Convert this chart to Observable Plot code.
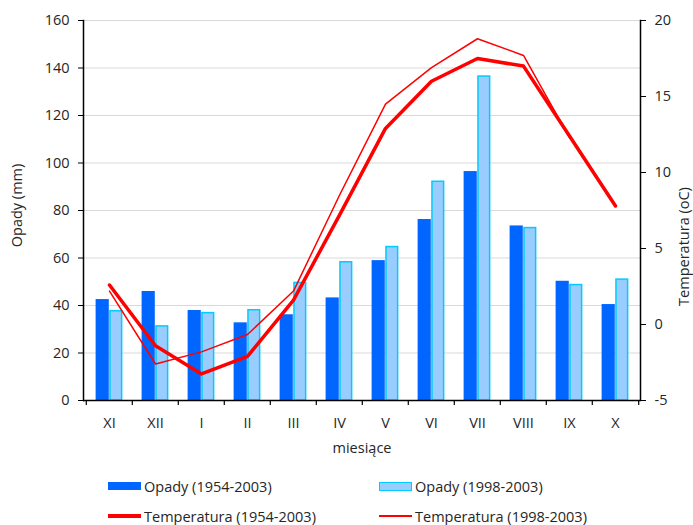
<!DOCTYPE html>
<html>
<head>
<meta charset="utf-8">
<script src="https://cdn.jsdelivr.net/npm/d3@7"></script>
<script src="https://cdn.jsdelivr.net/npm/@observablehq/plot@0.6"></script>
<style>
  body { margin: 0; background: #fff; font-family: "Open Sans", sans-serif; }
  #wrap { position: relative; width: 693px; height: 525px; }
  .legend { position: absolute; left: 0; top: 472px; width: 693px; height: 53px; font-size: 14.5px; color: #262626; }
  .item { position: absolute; display: flex; align-items: center; white-space: nowrap; }
  .sw { width: 33px; margin-right: 3px; box-sizing: border-box; }
</style>
</head>
<body>
<div id="wrap"></div>
<script>
const months = ["XI","XII","I","II","III","IV","V","VI","VII","VIII","IX","X"];
const opady1954 = [42.5, 45.9, 37.9, 32.7, 36.1, 43.2, 58.9, 76.2, 96.4, 73.5, 50.2, 40.4];
const opady1998 = [37.6, 31.2, 36.8, 38.0, 49.5, 58.2, 64.6, 92.1, 136.4, 72.6, 48.6, 50.9];
const temp1954 = [2.6, -1.4, -3.25, -2.1, 1.6, 7.2, 12.9, 16.0, 17.5, 17.0, 12.4, 7.8];
const temp1998 = [2.2, -2.6, -1.8, -0.66, 2.2, 8.5, 14.5, 16.9, 18.8, 17.7, 12.3, null];
const leftTicks = [0, 20, 40, 60, 80, 100, 120, 140, 160];
const rightTicks = [-5, 0, 5, 10, 15, 20];
const seriesNames = ["Opady (1954-2003)", "Opady (1998-2003)", "Temperatura (1954-2003)", "Temperatura (1998-2003)"];

// map temperature (secondary axis, -5..20) onto precipitation axis (0..160)
const tMin = -5, tMax = 20, pMax = 160;
const toY = t => (t - tMin) * pMax / (tMax - tMin);
const fromY = y => Math.round(y * (tMax - tMin) / pMax + tMin);

const bars1 = months.map((m, i) => ({m, v: opady1954[i]}));
const bars2 = months.map((m, i) => ({m, v: opady1998[i]}));
const line1 = months.map((m, i) => ({m, v: temp1954[i] == null ? null : toY(temp1954[i])})).filter(d => d.v != null);
const line2 = months.map((m, i) => ({m, v: temp1998[i] == null ? null : toY(temp1998[i])})).filter(d => d.v != null);

const W = 693, H = 460, mL = 83, mR = 53, mT = 20, mB = 60;
const bw = (W - mL - mR) / months.length;
const barW = 13.6;
const half = bw / 2;
const font = "Open Sans, sans-serif";
const fs = 14.5;

const chart = Plot.plot({
  width: W, height: H,
  marginLeft: mL, marginRight: mR, marginTop: mT, marginBottom: mB,
  style: {fontFamily: font, fontSize: fs + "px", color: "#262626", background: "#fff"},
  x: {type: "band", domain: months, paddingInner: 0, paddingOuter: 0},
  y: {domain: [0, pMax]},
  marks: [
    Plot.gridY(leftTicks.filter(d => d > 0), {stroke: "#d9d9d9", strokeOpacity: 1, strokeWidth: 1}),
    Plot.barY(bars1, {x: "m", y: "v", fill: "#0066ff", insetLeft: half - barW, insetRight: half}),
    Plot.barY(bars2, {x: "m", y: "v", fill: "#99ccff", stroke: "#00ccff", strokeWidth: 1.5, insetLeft: half + 0.75, insetRight: half - barW + 0.75}),
    Plot.line(line1, {x: "m", y: "v", stroke: "#ff0000", strokeWidth: 3.5}),
    Plot.line(line2, {x: "m", y: "v", stroke: "#ff0000", strokeWidth: 1.5}),
    Plot.ruleY([0], {stroke: "#000", strokeWidth: 1.5}),
    Plot.ruleX(months, {x: d => d, y1: 0, y2: 0, dx: -half, insetBottom: -5, stroke: "#000", strokeWidth: 1.2}),
    Plot.ruleX([months[months.length - 1]], {x: d => d, y1: 0, y2: 0, dx: half, insetBottom: -5, stroke: "#000", strokeWidth: 1.2}),
    Plot.frame({anchor: "left", stroke: "#000", strokeWidth: 1.5}),
    Plot.frame({anchor: "right", stroke: "#000", strokeWidth: 1.5}),
    Plot.axisY({anchor: "left", ticks: leftTicks, tickSize: 5, tickPadding: 9, label: null, stroke: "#000", fill: "#262626"}),
    Plot.axisY({anchor: "right", ticks: rightTicks.map(toY), tickFormat: fromY, tickSize: 5, tickPadding: 9, label: null, stroke: "#000", fill: "#262626"}),
    Plot.axisX({anchor: "bottom", tickSize: 0, tickPadding: 17, label: null, fill: "#262626"}),
    Plot.text(["Opady (mm)"], {frameAnchor: "left", textAnchor: "middle", dx: -66, dy: -5, rotate: -90, fill: "#262626", fontSize: fs}),
    Plot.text(["Temperatura (oC)"], {frameAnchor: "right", textAnchor: "middle", dx: 44, dy: 36, rotate: -90, fill: "#262626", fontSize: fs}),
    Plot.text(["miesiące"], {frameAnchor: "bottom", dy: 52, fill: "#262626", fontSize: fs})
  ]
});
document.getElementById("wrap").appendChild(chart);

// legend
const legend = document.createElement("div");
legend.className = "legend";
const pos = [[108, 486], [379, 486], [108, 516], [379, 516]];
const swatches = [
  "height:8px;background:#0066ff;",
  "height:9px;background:#99ccff;border:1.5px solid #00ccff;",
  "height:3.5px;background:#ff0000;",
  "height:1.5px;background:#ff0000;"
];
seriesNames.forEach((name, i) => {
  const it = document.createElement("div");
  it.className = "item";
  it.style.left = pos[i][0] + "px";
  it.style.top = (pos[i][1] - 472 - 10) + "px";
  it.style.height = "20px";
  const sw = document.createElement("span");
  sw.className = "sw";
  sw.style.cssText += swatches[i];
  const tx = document.createElement("span");
  tx.textContent = name;
  it.appendChild(sw); it.appendChild(tx);
  legend.appendChild(it);
});
document.getElementById("wrap").appendChild(legend);
</script>
</body>
</html>
